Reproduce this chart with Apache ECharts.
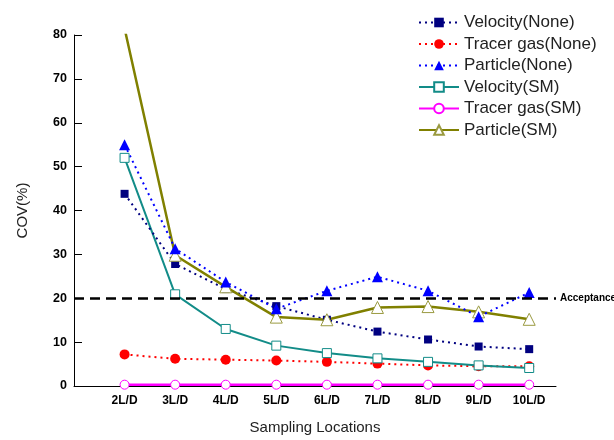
<!DOCTYPE html>
<html>
<head>
<meta charset="utf-8">
<script src="https://cdn.jsdelivr.net/npm/echarts@6/dist/echarts.min.js"></script>
<style>
  html, body { margin: 0; padding: 0; background: #fff; }
  #chart { width: 614px; height: 440px; }
</style>
</head>
<body>
<div id="chart"></div>
<script>
var categories = ['2L/D', '3L/D', '4L/D', '5L/D', '6L/D', '7L/D', '8L/D', '9L/D', '10L/D'];

var velocityNone = [43.8, 27.8, 22.1, 18.2, 15.1, 12.4, 10.6, 9.0, 8.4];
var tracerNone   = [7.2, 6.2, 6.0, 5.8, 5.5, 5.1, 4.7, 4.5, 4.5];
var particleNone = [55.0, 31.3, 23.7, 17.6, 21.7, 24.9, 21.7, 15.8, 21.3];
var velocitySM   = [52.0, 20.9, 13.0, 9.2, 7.5, 6.3, 5.5, 4.7, 4.1];
var tracerSM     = [0.3, 0.3, 0.3, 0.3, 0.3, 0.3, 0.3, 0.3, 0.3];
var particleSM   = [81.5, 29.8, 22.6, 15.7, 15.1, 17.9, 18.1, 16.9, 15.2];

var acceptance = 20;

// x positions: first category sits one step right of the y axis
function pts(arr) {
    return arr.map(function (v, i) { return [i + 1, v]; });
}

var font = '"Liberation Sans", Arial, sans-serif';

var chart = echarts.init(document.getElementById('chart'));

var option = {
    animation: false,
    backgroundColor: '#fff',
    grid: { left: 74, right: 58, top: 35, bottom: 49 },
    legend: {
        orient: 'vertical',
        left: 413,
        top: 9,
        itemWidth: 40,
        itemHeight: 12,
        itemGap: 4.5,
        textStyle: { fontFamily: font, fontSize: 17, color: '#222', lineHeight: 17 },
        data: ['Velocity(None)', 'Tracer gas(None)', 'Particle(None)', 'Velocity(SM)', 'Tracer gas(SM)', 'Particle(SM)']
    },
    xAxis: {
        type: 'value',
        min: 0,
        max: 9.53,
        interval: 1,
        name: 'Sampling Locations',
        nameLocation: 'middle',
        nameGap: 34,
        nameTextStyle: { fontFamily: font, fontSize: 15, color: '#222' },
        axisLine: { lineStyle: { color: '#000', width: 1 } },
        axisTick: { show: false },
        splitLine: { show: false },
        axisLabel: {
            margin: 9,
            fontFamily: font,
            fontSize: 12,
            fontWeight: 'bold',
            color: '#000',
            showMaxLabel: false,
            formatter: function (v) { return categories[v - 1] || ''; }
        }
    },
    yAxis: {
        type: 'value',
        min: 0,
        max: 80,
        interval: 10,
        name: 'COV(%)',
        nameLocation: 'middle',
        nameGap: 44,
        nameTextStyle: { fontFamily: font, fontSize: 15, color: '#222' },
        axisLine: { show: true, lineStyle: { color: '#000', width: 1 } },
        axisTick: { show: true, inside: true, length: 8, lineStyle: { color: '#000' } },
        splitLine: { show: false },
        axisLabel: { margin: 7, fontFamily: font, fontSize: 12.5, fontWeight: 'bold', color: '#000' }
    },
    series: [
        {
            name: 'Tracer gas(SM)',
            type: 'line',
            data: pts(tracerSM),
            symbol: 'circle',
            symbolSize: 9,
            itemStyle: { color: '#fff', borderColor: '#ff00ff', borderWidth: 1 },
            lineStyle: { color: '#ff00ff', width: 2.5 },
            z: 3
        },
        {
            name: 'Tracer gas(None)',
            type: 'line',
            data: pts(tracerNone),
            symbol: 'circle',
            symbolSize: 10,
            itemStyle: { color: '#ff0000' },
            lineStyle: { color: '#ff0000', width: 2, type: [2, 4] }
        },
        {
            name: 'Velocity(SM)',
            type: 'line',
            data: pts(velocitySM),
            symbol: 'rect',
            symbolSize: 9,
            itemStyle: { color: '#fff', borderColor: '#128c88', borderWidth: 1 },
            lineStyle: { color: '#128c88', width: 2 }
        },
        {
            name: 'Velocity(None)',
            type: 'line',
            data: pts(velocityNone),
            symbol: 'rect',
            symbolSize: 8,
            itemStyle: { color: '#000080' },
            lineStyle: { color: '#000080', width: 2, type: [2, 4] },
            markLine: {
                silent: true,
                symbol: 'none',
                lineStyle: { color: '#000', width: 2.5, type: [10, 6] },
                label: {
                    show: true,
                    position: 'end',
                    distance: 4,
                    formatter: 'Acceptance',
                    fontFamily: font,
                    fontSize: 10,
                    fontWeight: 'bold',
                    color: '#000'
                },
                data: [{ yAxis: acceptance }]
            }
        },
        {
            name: 'Particle(SM)',
            type: 'line',
            data: pts(particleSM),
            symbol: 'triangle',
            symbolSize: 12,
            itemStyle: { color: '#fff', borderColor: '#9a9a40', borderWidth: 1 },
            lineStyle: { color: '#808000', width: 2.5 }
        },
        {
            name: 'Particle(None)',
            type: 'line',
            data: pts(particleNone),
            symbol: 'triangle',
            symbolSize: 11,
            itemStyle: { color: '#0000ff' },
            lineStyle: { color: '#0000ff', width: 2, type: [2, 4] }
        }
    ]
};

chart.setOption(option);
</script>
</body>
</html>
